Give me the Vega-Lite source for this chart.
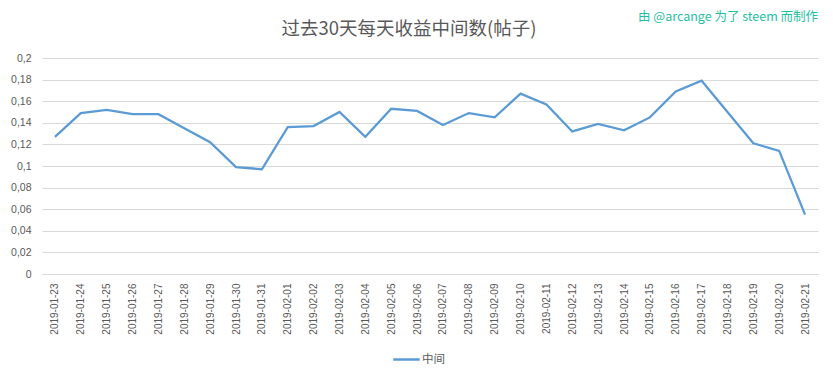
{
  "$schema": "https://vega.github.io/schema/vega-lite/v6.json",
  "width": 776,
  "height": 216,
  "autosize": {"type": "none"},
  "padding": {"left": 42, "top": 58, "right": 15, "bottom": 104},
  "background": "white",
  "title": {
    "text": "过去30天每天收益中间数(帖子)",
    "font": "Noto Sans CJK SC",
    "fontSize": 18.5,
    "fontWeight": "normal",
    "color": "#595959",
    "anchor": "middle",
    "offset": 0,
    "dx": -21,
    "dy": 27
  },
  "config": {
    "view": {"stroke": null},
    "font": "Liberation Sans"
  },
  "datasets": {
    "median": [
      {"date": "2019-01-23", "median": 0.127},
      {"date": "2019-01-24", "median": 0.149},
      {"date": "2019-01-25", "median": 0.152},
      {"date": "2019-01-26", "median": 0.148},
      {"date": "2019-01-27", "median": 0.148},
      {"date": "2019-01-28", "median": 0.135},
      {"date": "2019-01-29", "median": 0.122},
      {"date": "2019-01-30", "median": 0.099},
      {"date": "2019-01-31", "median": 0.097},
      {"date": "2019-02-01", "median": 0.136},
      {"date": "2019-02-02", "median": 0.137},
      {"date": "2019-02-03", "median": 0.150},
      {"date": "2019-02-04", "median": 0.127},
      {"date": "2019-02-05", "median": 0.153},
      {"date": "2019-02-06", "median": 0.151},
      {"date": "2019-02-07", "median": 0.138},
      {"date": "2019-02-08", "median": 0.149},
      {"date": "2019-02-09", "median": 0.145},
      {"date": "2019-02-10", "median": 0.167},
      {"date": "2019-02-11", "median": 0.157},
      {"date": "2019-02-12", "median": 0.132},
      {"date": "2019-02-13", "median": 0.139},
      {"date": "2019-02-14", "median": 0.133},
      {"date": "2019-02-15", "median": 0.145},
      {"date": "2019-02-16", "median": 0.169},
      {"date": "2019-02-17", "median": 0.179},
      {"date": "2019-02-18", "median": 0.150},
      {"date": "2019-02-19", "median": 0.121},
      {"date": "2019-02-20", "median": 0.114},
      {"date": "2019-02-21", "median": 0.055}
    ]
  },
  "layer": [
    {
      "data": {"name": "median"},
      "mark": {"type": "line", "strokeWidth": 2.25},
      "encoding": {
        "x": {
          "field": "date",
          "type": "ordinal",
          "title": null,
          "axis": {
            "labelAngle": -90,
            "labelFontSize": 10,
            "labelColor": "#595959",
            "labelPadding": 9,
            "labelOverlap": false,
            "ticks": false,
            "domainColor": "#d9d9d9",
            "domainWidth": 1,
            "grid": false
          }
        },
        "y": {
          "field": "median",
          "type": "quantitative",
          "title": null,
          "scale": {"domain": [0, 0.2], "nice": false},
          "axis": {
            "values": [0, 0.02, 0.04, 0.06, 0.08, 0.1, 0.12, 0.14, 0.16, 0.18, 0.2],
            "labelExpr": "replace(format(datum.value, '~g'), '.', ',')",
            "labelFontSize": 10.5,
            "labelColor": "#595959",
            "labelPadding": 11,
            "labelOverlap": false,
            "ticks": false,
            "domain": false,
            "gridColor": "#d9d9d9",
            "gridWidth": 1
          }
        },
        "color": {
          "datum": "中间",
          "type": "nominal",
          "scale": {"range": ["#5B9BD5"]},
          "legend": {
            "orient": "none",
            "legendX": 350,
            "legendY": 287,
            "padding": 0,
            "title": null,
            "symbolType": "stroke",
            "symbolSize": 700,
            "symbolStrokeWidth": 2.5,
            "labelFont": "Noto Sans CJK SC",
            "labelFontSize": 11.5,
            "labelColor": "#595959",
            "labelOffset": 1
          }
        }
      }
    },
    {
      "data": {"values": [{}]},
      "mark": {
        "type": "text",
        "text": "由 @arcange 为了 steem 而制作",
        "color": "#1fbf9f",
        "align": "right",
        "baseline": "middle",
        "font": "Noto Sans CJK SC",
        "fontSize": 12.5,
        "dx": 13,
        "dy": -41
      },
      "encoding": {
        "x": {
          "datum": "2019-02-21",
          "type": "ordinal",
          "title": null,
          "axis": {
            "labelAngle": -90,
            "labelFontSize": 10,
            "labelColor": "#595959",
            "labelPadding": 9,
            "labelOverlap": false,
            "ticks": false,
            "domainColor": "#d9d9d9",
            "domainWidth": 1,
            "grid": false
          }
        },
        "y": {
          "datum": 0.2,
          "type": "quantitative",
          "title": null,
          "axis": {
            "values": [0, 0.02, 0.04, 0.06, 0.08, 0.1, 0.12, 0.14, 0.16, 0.18, 0.2],
            "labelExpr": "replace(format(datum.value, '~g'), '.', ',')",
            "labelFontSize": 10.5,
            "labelColor": "#595959",
            "labelPadding": 11,
            "labelOverlap": false,
            "ticks": false,
            "domain": false,
            "gridColor": "#d9d9d9",
            "gridWidth": 1
          }
        }
      }
    }
  ]
}
